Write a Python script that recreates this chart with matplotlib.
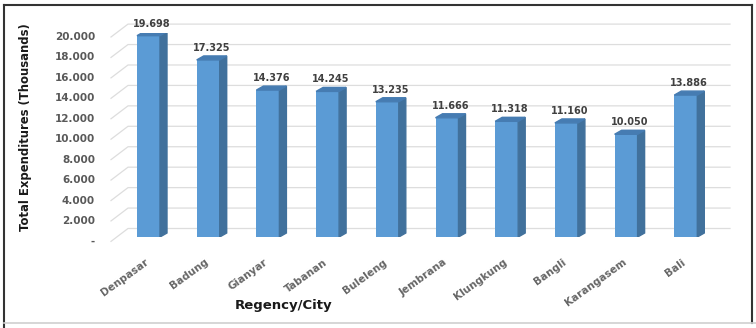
import matplotlib.pyplot as plt
from matplotlib.patches import Polygon
from matplotlib.lines import Line2D

# Data
regions = ['Denpasar', 'Badung', 'Gianyar', 'Tabanan', 'Buleleng',
           'Jembrana', 'Klungkung', 'Bangli', 'Karangasem', 'Bali']
expenditure = [19698, 17325, 14376, 14245, 13235,
               11666, 11318, 11160, 10050, 13886]
y_ticks = [0, 2000, 4000, 6000, 8000, 10000, 12000, 14000, 16000, 18000, 20000]
y_tick_labels = ['-', '2.000', '4.000', '6.000', '8.000', '10.000',
                 '12.000', '14.000', '16.000', '18.000', '20.000']


def dotted(v):
    return f"{v:,}".replace(',', '.')


W, H = 756, 328
plt.rcParams['font.family'] = 'DejaVu Sans'
fig = plt.figure(figsize=(W / 100, H / 100), dpi=100)

# axes box is the plane the bars stand in (pixel layout)
ax_left, ax_bottom, ax_w, ax_h = 118.65, 237, 597, 204.4
ax = fig.add_axes([ax_left / W, (H - ax_bottom) / H, ax_w / W, ax_h / H])
ax.set_xlim(-0.5, 9.5)
ax.set_ylim(0, 20000)
ax.axis('off')

px_x = 10 / ax_w        # data units per pixel
px_y = 20000 / ax_h

front = '#5B9BD5'
side = '#41719C'
top = '#467CB2'
grid = '#DDDDDD'

# 3D style gridlines: short diagonal on the side wall, then back wall line
xf = -0.5 + (111 - ax_left) * px_x
xb = -0.5 + (128 - ax_left) * px_x
xe = -0.5 + (730 - ax_left) * px_x
for v, lab in zip(y_ticks, y_tick_labels):
    yf = v - 4.4 * px_y
    yb = v + 8.5 * px_y
    ax.plot([xf, xb, xe], [yf, yb, yb], color=grid, lw=0.9, zorder=1,
            clip_on=False)
    ax.text(-0.5 + (95 - ax_left) * px_x, yf, lab, ha='right', va='center',
            fontsize=7.5, fontweight='bold', color='#595959')

# bars: front face, then side and top faces for depth
x = list(range(len(regions)))
bw = 23 * px_x
dx, dy = 7 * px_x, 4 * px_y
ax.bar(x, expenditure, width=bw, color=front, zorder=3)
for i, v in zip(x, expenditure):
    x0, x1 = i - bw / 2, i + bw / 2
    ax.add_patch(Polygon([(x1, 0), (x1 + dx, dy), (x1 + dx, v + dy), (x1, v)],
                         closed=True, color=side, zorder=3))
    ax.add_patch(Polygon([(x0, v), (x1, v), (x1 + dx, v + dy), (x0 + dx, v + dy)],
                         closed=True, color=top, zorder=3))
    ax.annotate(dotted(v), (i + 3.5 * px_x, v), xytext=(0, 9),
                textcoords='offset pixels', ha='center', va='baseline',
                fontsize=7, fontweight='bold', color='#404040')
    ax.text(i - 4 * px_x, -20 * px_y, regions[i], rotation=36,
            rotation_mode='anchor', ha='right', va='top',
            fontsize=7.5, fontweight='bold', color='#666666')

fig.text(26 / W, 1 - 127 / H, 'Total Expenditures (Thousands)', rotation=90,
         ha='center', va='center', fontsize=8.4, fontweight='bold', color='#1a1a1a')
fig.text(284 / W, 1 - 305 / H, 'Regency/City', ha='center', va='center',
         fontsize=9.5, fontweight='bold', color='#1a1a1a')

# outer frame (dark on three sides, light cell line at the bottom)
def fx(p):
    return p / W


def fy(p):
    return 1 - p / H


fig.add_artist(Line2D([fx(4), fx(4)], [fy(5), fy(328)], color='#333333', lw=1.5))
fig.add_artist(Line2D([fx(4), fx(752)], [fy(5), fy(5)], color='#333333', lw=1.5))
fig.add_artist(Line2D([fx(752), fx(752)], [fy(5), fy(323)], color='#333333', lw=1.5))
fig.add_artist(Line2D([fx(4), fx(756)], [fy(323), fy(323)], color='#D0D0D0', lw=1.2))

fig.savefig('out.png', dpi=100)
